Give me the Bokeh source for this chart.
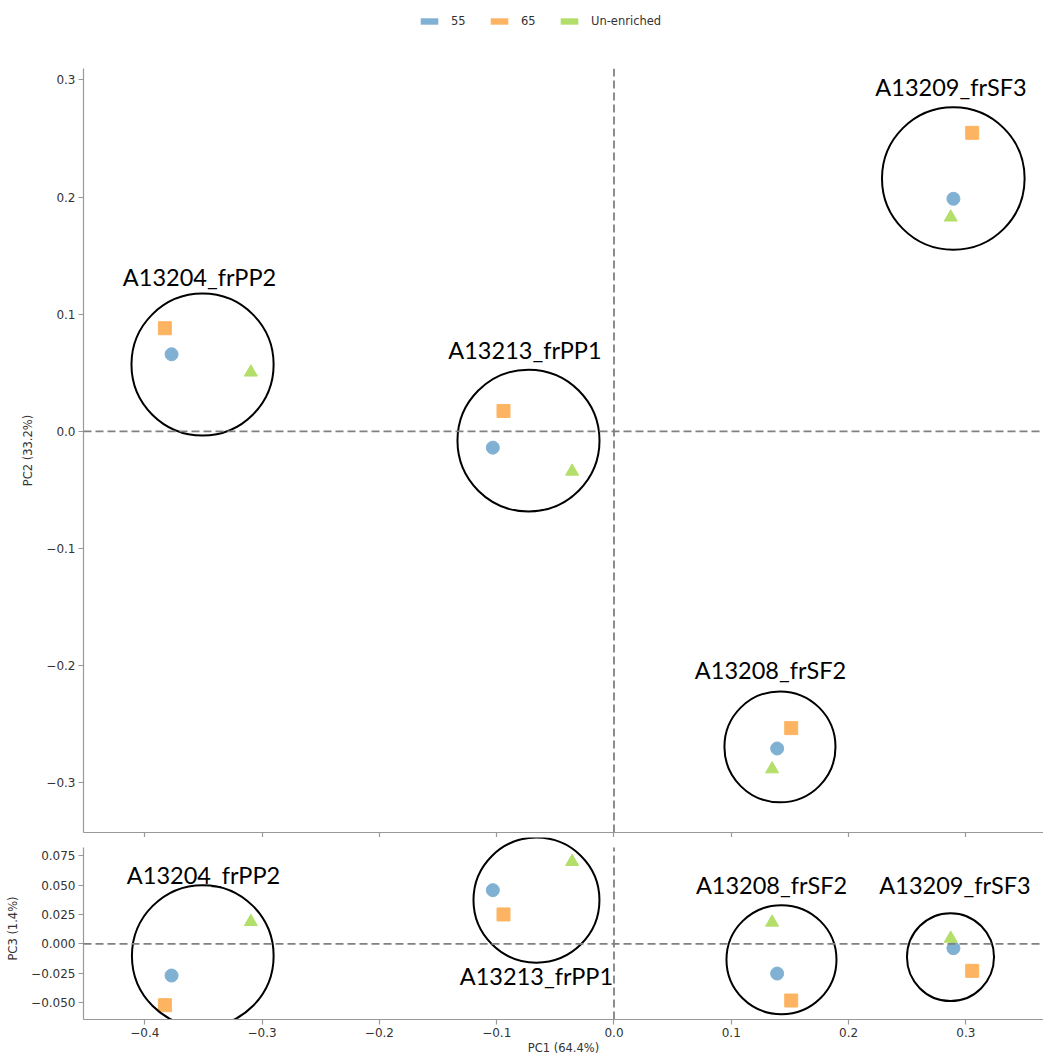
import numpy as np
from bokeh.plotting import figure
from bokeh.layouts import column
from bokeh.models import (Span, Legend, LegendItem, FixedTicker,
                          CustomJSTickFormatter, Range1d, ColumnDataSource)
from bokeh.embed import file_html
from bokeh.resources import INLINE
from bokeh.core.properties import value

# ---------------- data ----------------
groups = ["55", "65", "Un-enriched"]
colors = ["#80b1d3", "#fdb462", "#b3de69"]
markers = ["circle", "square", "triangle"]
samples = ["A13204_frPP2", "A13213_frPP1", "A13209_frSF3", "A13208_frSF2"]

pc1_55 = [-0.3772, -0.1033, 0.2894, 0.1391]
pc1_65 = [-0.3829, -0.0942, 0.3054, 0.1511]
pc1_un = [-0.3096, -0.0357, 0.2871, 0.1348]

pc2_55 = [0.0658, -0.0139, 0.1985, -0.2707]
pc2_65 = [0.0880, 0.0174, 0.2548, -0.2533]
pc2_un = [0.0504, -0.0342, 0.1827, -0.2883]

pc3_55 = [-0.0270, 0.0458, -0.0037, -0.0253]
pc3_65 = [-0.0523, 0.0251, -0.0230, -0.0483]
pc3_un = [0.0188, 0.0700, 0.0046, 0.0183]

# cluster annotations (circles + labels), PC1/PC2 panel
top_circle_x = [-0.3508, -0.0729, 0.2893, 0.1415]
top_circle_y = [0.0570, -0.0079, 0.2158, -0.2693]
top_circle_d = [0.1212, 0.1211, 0.1216, 0.0947]
top_label_x = [-0.3534, -0.0759, 0.2873, 0.1334]
top_label_y = [0.1321, 0.0698, 0.2935, -0.2035]

# cluster annotations, PC1/PC3 panel
bot_circle_x = [-0.3506, -0.0661, 0.2869, 0.1428]
bot_circle_y = [-0.0103, 0.0373, -0.0113, -0.0135]
bot_circle_w = [0.1208, 0.1074, 0.0742, 0.0938]
bot_circle_h = [0.1208, 0.1066, 0.0751, 0.0930]
bot_label_x = [-0.3500, -0.0661, 0.2907, 0.1343]
bot_label_y = [0.0587, -0.0276, 0.0501, 0.0501]

x_ticks = [-0.4, -0.3, -0.2, -0.1, 0.0, 0.1, 0.2, 0.3]
pc2_ticks = [-0.3, -0.2, -0.1, 0.0, 0.1, 0.2, 0.3]
pc3_ticks = [-0.05, -0.025, 0.0, 0.025, 0.05, 0.075]

x_label = "PC1 (64.4%)"
pc2_label = "PC2 (33.2%)"
pc3_label = "PC3 (1.4%)"

# axis limits
pc1_lim = (-0.4523, 0.3662)
pc2_lim = (-0.3424, 0.3097)
pc3_lim = (-0.0645, 0.0822)
pc3_view_top = 0.0907   # a little headroom so the top circle is not clipped

# ---------------- styling ----------------
W = 1043
AX_COLOR = "#999999"
TXT_COLOR = "#333333"
DASH_COLOR = "#808080"
TICK_FONT = "12px"
LABEL_FONT = "11.5px"
ANNOT_FONT = "Lato"
ANNOT_SIZE = "23.5px"

x_range = Range1d(*pc1_lim)


def fmt(decimals):
    return CustomJSTickFormatter(
        code="return tick.toFixed(%d).replace('-', '\\u2212');" % decimals)


def style(p):
    p.outline_line_color = None
    p.grid.visible = False
    p.background_fill_color = "white"
    p.border_fill_color = "white"
    for ax in (p.xaxis[0], p.yaxis[0]):
        ax.axis_line_color = AX_COLOR
        ax.axis_line_width = 1.2
        ax.major_tick_line_color = AX_COLOR
        ax.major_tick_line_width = 1.2
        ax.major_tick_in = 0
        ax.major_tick_out = 5
        ax.minor_tick_line_color = None
        ax.major_label_text_font = "DejaVu Sans"
        ax.major_label_text_font_size = TICK_FONT
        ax.major_label_text_color = TXT_COLOR
        ax.axis_label_text_font = "DejaVu Sans"
        ax.axis_label_text_font_size = LABEL_FONT
        ax.axis_label_text_font_style = "normal"
        ax.axis_label_text_color = TXT_COLOR
    p.xaxis.ticker = FixedTicker(ticks=x_ticks)
    p.xaxis.formatter = fmt(1)
    p.yaxis.major_label_standoff = 3
    p.yaxis.axis_label_standoff = 8
    p.add_layout(Span(location=0, dimension="width", line_color=DASH_COLOR,
                      line_dash="8 4", line_width=1.8))


def draw_points(p, ys):
    xs = [pc1_55, pc1_65, pc1_un]
    for x, y, c, m in zip(xs, ys, colors, markers):
        p.scatter(x=x, y=y, marker=m, size=13, fill_color=c, line_color=c,
                  line_width=1)


# ---------------- legend strip ----------------
pl = figure(width=W, height=68, x_range=Range1d(0, 1), y_range=Range1d(0, 1),
            output_backend="svg", toolbar_location=None,
            x_axis_location=None, y_axis_location=None,
            min_border=0, outline_line_color=None)
pl.grid.visible = False
items = []
for g, c in zip(groups, colors):
    src = ColumnDataSource(dict(l=[np.nan], r=[np.nan], t=[np.nan],
                                b=[np.nan]))
    r = pl.quad(left="l", right="r", top="t", bottom="b", source=src,
                fill_color=c, line_color=None)
    items.append(LegendItem(label=g, renderers=[r]))
legend = Legend(items=items, orientation="horizontal", location=(335, 40),
                glyph_width=22, glyph_height=8, label_height=8,
                label_standoff=11, spacing=17, padding=0, margin=0,
                border_line_color=None, background_fill_alpha=0,
                label_text_font="DejaVu Sans",
                label_text_font_size=LABEL_FONT,
                label_text_color=TXT_COLOR)
pl.add_layout(legend, "center")

# ---------------- top panel: PC1 vs PC2 ----------------
p1 = figure(width=W, height=769, x_range=x_range,
            y_range=Range1d(*pc2_lim),
            output_backend="svg", toolbar_location=None,
            min_border_left=83, min_border_right=0,
            min_border_top=0, min_border_bottom=5)
style(p1)
p1.add_layout(Span(location=0, dimension="height", line_color=DASH_COLOR,
                   line_dash="8 4", line_width=1.8))
p1.yaxis.ticker = FixedTicker(ticks=pc2_ticks)
p1.yaxis.formatter = fmt(1)
p1.yaxis.axis_label = pc2_label
p1.xaxis.formatter = CustomJSTickFormatter(code="return '';")
p1.xaxis.major_label_standoff = 0

draw_points(p1, [pc2_55, pc2_65, pc2_un])
p1.ellipse(x=top_circle_x, y=top_circle_y, width=top_circle_d,
           height=top_circle_d, fill_color=None, line_color="black",
           line_width=2)
p1.text(x=top_label_x, y=top_label_y, text=samples,
        text_font=value(ANNOT_FONT), text_font_size=ANNOT_SIZE,
        text_align="center", text_baseline="middle", text_color="black")

# ---------------- bottom panel: PC1 vs PC3 ----------------
p2 = figure(width=W, height=220, x_range=x_range,
            y_range=Range1d(pc3_lim[0], pc3_view_top),
            output_backend="svg", toolbar_location=None,
            min_border_left=83, min_border_right=0,
            min_border_top=0, min_border_bottom=38)
style(p2)
p2.yaxis.bounds = pc3_lim
p2.segment(x0=[0], y0=[pc3_lim[0]], x1=[0], y1=[pc3_lim[1]],
           line_color=DASH_COLOR, line_dash="8 4", line_width=1.8)
p2.yaxis.ticker = FixedTicker(ticks=pc3_ticks)
p2.yaxis.formatter = fmt(3)
p2.yaxis.axis_label = pc3_label
p2.xaxis.axis_label = x_label
p2.xaxis.major_label_standoff = 3
p2.xaxis.axis_label_standoff = 1

draw_points(p2, [pc3_55, pc3_65, pc3_un])
p2.ellipse(x=bot_circle_x, y=bot_circle_y, width=bot_circle_w,
           height=bot_circle_h, fill_color=None, line_color="black",
           line_width=2)
p2.text(x=bot_label_x, y=bot_label_y, text=samples,
        text_font=value(ANNOT_FONT), text_font_size=ANNOT_SIZE,
        text_align="center", text_baseline="middle", text_color="black")

layout = column(pl, p1, p2)
open("out.html", "w").write(file_html(layout, INLINE))
